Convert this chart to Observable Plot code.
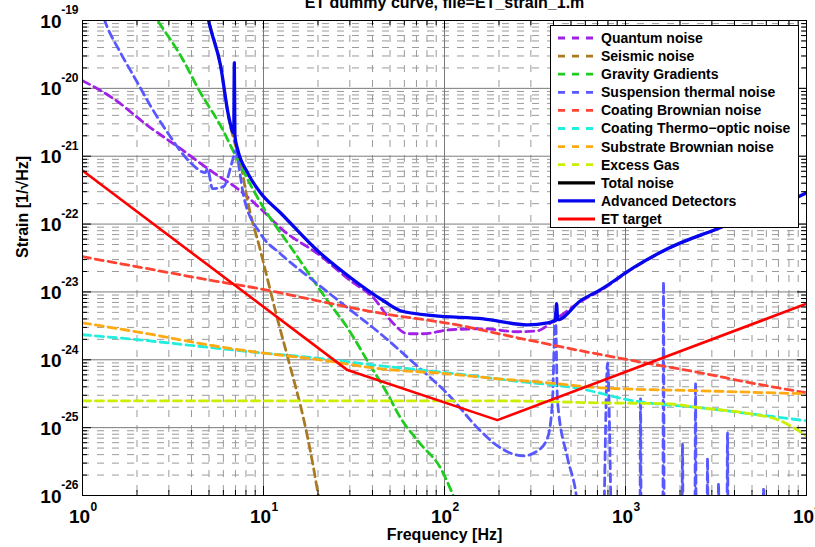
<!DOCTYPE html>
<html>
<head>
<meta charset="utf-8">
<script src="https://cdn.jsdelivr.net/npm/d3@7"></script>
<script src="https://cdn.jsdelivr.net/npm/@observablehq/plot@0.6"></script>
<style>
  html, body { margin: 0; padding: 0; background: #fff; }
  #chart { position: relative; width: 815px; height: 547px; overflow: hidden;
           font-family: "Liberation Sans", Arial, Helvetica, sans-serif; }
  #legend { position: absolute; left: 550px; top: 25px; }
</style>
</head>
<body>
<div id="chart"></div>
<script>
// ---- noise budget, strain amplitude spectral density vs frequency ----
const quantumF = [1, 1.48, 2.29, 3.48, 5.29, 7.18, 9.62, 12.9, 19.9, 30.3, 40.5, 52.3, 62.5, 76.5, 108, 164, 253, 327, 400, 478, 564, 728, 1107, 1706, 3221, 10000];
const quantumH = [1.30e-20, 7.08e-21, 2.83e-21, 1.29e-21, 5.73e-22, 3.33e-22, 1.69e-22, 8.0e-23, 3.66e-23, 1.46e-23, 8.2e-24, 3.4e-24, 2.42e-24, 2.42e-24, 2.77e-24, 2.86e-24, 2.59e-24, 2.68e-24, 3.76e-24, 5.28e-24, 7.2e-24, 1.05e-23, 2.25e-23, 4.3e-23, 8.5e-23, 2.85e-22];

const seismicF = [4.6, 5.0, 5.8, 6.4, 6.83, 7.46, 8.16, 9.62, 11.9, 14.1, 16.6, 18.9, 20.1, 21];
const seismicH = [3e-19, 1.0e-19, 2.1e-20, 3.8e-21, 1.82e-21, 8.05e-22, 2.21e-22, 4.05e-23, 4.16e-24, 7.62e-25, 1.40e-25, 2.55e-26, 9.9e-27, 5e-27];

const gravityF = [2.2, 2.60, 3.48, 4.48, 5.79, 7.46, 9.62, 14.6, 22.6, 29.1, 37.5, 48.4, 57.1, 73.6, 95, 112, 125];
const gravityH = [2e-19, 1e-19, 3.05e-20, 8.67e-21, 2.82e-21, 7.26e-22, 2.07e-22, 4.05e-23, 7.41e-24, 2.96e-24, 9.66e-25, 3.15e-25, 1.40e-25, 5.77e-26, 2.55e-26, 9.9e-27, 5e-27];

const suspensionF = [1.25, 1.34, 1.62, 2.01, 2.37, 2.95, 3.95, 4.78, 4.90, 5.23, 6.01, 6.74, 7.0, 7.46, 7.76, 9.62, 12.4, 18.9, 29.1, 44.3, 67.4, 104, 158, 196, 273, 327, 371, 395, 410, 421, 478, 530, 560,
  745, 796, 850, 1199, 1211, 1223, 1606, 1622, 1638, 2045, 2065, 2085, 2413, 2437, 2461, 2811, 2839, 2867, 3234, 3266, 3298, 3625, 3661, 3697, 5730, 5787, 5845, 10000];
const suspensionH = [1.6e-19, 9.3e-20, 3.37e-20, 1.22e-20, 5.57e-21, 2.23e-21, 8.05e-22, 5.73e-22, 6.56e-22, 3.33e-22, 3.56e-22, 8.6e-22, 1.21e-21, 5.0e-22, 2.6e-22, 7.2e-23, 3.66e-23, 1.46e-23, 5.85e-24, 2.42e-24, 9.04e-25, 3.15e-25, 8.97e-26, 5.39e-26, 3.84e-26, 4.55e-26, 7.08e-26, 2.48e-25, 5.28e-24, 2.48e-25, 3.59e-26, 1.17e-26, 4e-27,
  1e-27, 9.0e-25, 1e-27, 1e-27, 2.75e-25, 1e-27, 1e-27, 1.41e-23, 1e-27, 1e-27, 5.77e-26, 1e-27, 1e-27, 4.58e-25, 1e-27, 1e-27, 3.59e-26, 1e-27, 1e-27, 1.53e-26, 1e-27, 1e-27, 8.38e-26, 1e-27, 1e-27, 1.25e-26, 1e-27, 1e-27];

const coatBrownF = [1, 2.29, 5.29, 9.62, 19.9, 46, 108, 253, 564, 1374, 2596, 4907, 10000];
const coatBrownH = [3.30e-23, 2.20e-23, 1.46e-23, 1.11e-23, 7.41e-24, 4.77e-24, 3.40e-24, 2.11e-24, 1.36e-24, 8.73e-25, 6.43e-25, 4.58e-25, 3.26e-25];

const thermoOpticF = [1, 2.29, 5.29, 9.62, 18.9, 44.3, 104, 240, 564, 1107, 2596, 6095, 10000];
const thermoOpticH = [2.34e-24, 1.91e-24, 1.50e-24, 1.27e-24, 1.07e-24, 8.16e-25, 6.43e-25, 4.90e-25, 3.73e-25, 2.48e-25, 1.96e-25, 1.49e-25, 1.26e-25];

const substrateF = [1, 2.29, 5.29, 9.62, 18.9, 44.3, 104, 196, 371, 728, 2596, 10000];
const substrateH = [3.51e-24, 2.42e-24, 1.61e-24, 1.27e-24, 1.03e-24, 7.37e-25, 6.22e-25, 5.25e-25, 4.58e-25, 3.86e-25, 3.49e-25, 3.15e-25];

const gasF = [1, 204, 728, 1706, 2596, 4907, 7185, 8690, 10000];
const gasH = [2.48e-25, 2.48e-25, 2.32e-25, 2.25e-25, 1.96e-25, 1.6e-25, 1.26e-25, 9.6e-26, 7.57e-26];

const totalF = [];
const totalH = [];

const advancedF = [4.6, 4.97, 5.79, 6.41, 6.85, 6.9, 6.95, 7.18, 8.16, 9.62, 12.4, 19.9, 30.3, 46, 57.1, 86.9, 164, 287, 371, 410, 416, 422, 564, 728, 1107, 1706, 3221, 9270, 10000];
const advancedH = [3e-19, 1e-19, 2.17e-20, 3.97e-21, 2.2e-21, 2.4e-20, 2.0e-21, 1.29e-21, 5.73e-22, 2.9e-22, 1.47e-22, 4.05e-23, 1.62e-23, 7.41e-24, 5.28e-24, 4.46e-24, 4.02e-24, 3.28e-24, 3.51e-24, 3.8e-24, 6.7e-24, 3.9e-24, 7.41e-24, 1.08e-23, 2.28e-23, 4.33e-23, 8.55e-23, 2.62e-22, 2.9e-22];

const etTargetF = [1, 29.1, 196, 10000];
const etTargetH = [6.14e-22, 7.05e-25, 1.29e-25, 6.7e-24];

// ---- axis ticks ----
const xTicks = [1, 10, 100, 1000, 10000];
const xTickExp = ["0", "1", "2", "3", "4"];
const yTicks = [1e-19, 1e-20, 1e-21, 1e-22, 1e-23, 1e-24, 1e-25, 1e-26];
const yTickExp = ["-19", "-20", "-21", "-22", "-23", "-24", "-25", "-26"];

const titleText = "ET dummy curve, file=ET_strain_1.m";
const xLabel = "Frequency [Hz]";
const yLabel = "Strain [1/\u221AHz]";

// ---- series styling ----
const series = [
  {name: "Quantum noise",               f: quantumF,     h: quantumH,     color: "#a020e8", dash: true},
  {name: "Seismic noise",               f: seismicF,     h: seismicH,     color: "#aa7a22", dash: true},
  {name: "Gravity Gradients",           f: gravityF,     h: gravityH,     color: "#1fcc1f", dash: true},
  {name: "Suspension thermal noise",    f: suspensionF,  h: suspensionH,  color: "#5858ff", dash: true},
  {name: "Coating Brownian noise",      f: coatBrownF,   h: coatBrownH,   color: "#ff4433", dash: true},
  {name: "Coating Thermo\u2212optic noise", f: thermoOpticF, h: thermoOpticH, color: "#22eedd", dash: true},
  {name: "Substrate Brownian noise",    f: substrateF,   h: substrateH,   color: "#ffaa11", dash: true},
  {name: "Excess Gas",                  f: gasF,         h: gasH,         color: "#ccee00", dash: true},
  {name: "Total noise",                 f: totalF,       h: totalH,       color: "#000000", dash: false, width: 3.2},
  {name: "Advanced Detectors",          f: advancedF,    h: advancedH,    color: "#0505ee", dash: false, width: 3.3},
  {name: "ET target",                   f: etTargetF,    h: etTargetH,    color: "#ff0000", dash: false, width: 2.6, curve: "linear"}
];

// ---- layout ----
const W = 815, H = 547;
const mL = 82, mR = 9, mT = 20, mB = 52;
const frameW = W - mL - mR, frameH = H - mT - mB;
const font = "Liberation Sans, Arial, Helvetica, sans-serif";

// log grid positions: decades and the 2..9 multiples between them
const xMinor = [], yMinor = [];
for (let d = 0; d < 4; d++) for (let k = 2; k <= 9; k++) xMinor.push(k * 10 ** d);
for (let d = -26; d < -19; d++) for (let k = 2; k <= 9; k++) yMinor.push(k * 10 ** d);

const lineMarks = series.filter(s => s.f.length).map(s =>
  Plot.line(s.f.map((f, i) => ({f, h: s.h[i]})), {
    x: "f", y: "h",
    stroke: s.color,
    strokeWidth: s.width ?? 2.8,
    strokeDasharray: s.dash ? "8,5" : null,
    curve: s.curve ?? "monotone-x",
    clip: true
  })
);

const chart = Plot.plot({
  width: W, height: H,
  marginLeft: mL, marginRight: mR, marginTop: mT, marginBottom: mB,
  style: {fontFamily: font, background: "#fff", overflow: "visible"},
  x: {type: "log", domain: [1, 1e4], axis: null},
  y: {type: "log", domain: [1e-26, 1e-19], axis: null},
  marks: [
    // grid
    Plot.ruleX(xMinor, {x: d => d, stroke: "#9a9a9a", strokeWidth: 1, strokeDasharray: "7,8"}),
    Plot.ruleY(yMinor, {y: d => d, stroke: "#9a9a9a", strokeWidth: 1, strokeDasharray: "7,8"}),
    Plot.ruleX(xTicks, {x: d => d, stroke: "#7a7a7a", strokeWidth: 1}),
    Plot.ruleY(yTicks, {y: d => d, stroke: "#7a7a7a", strokeWidth: 1}),
    // curves
    ...lineMarks,
    // inward ticks on all four sides
    Plot.tickX(xMinor, {x: d => d, insetTop: frameH - 5, stroke: "#000"}),
    Plot.tickX(xMinor, {x: d => d, insetBottom: frameH - 5, stroke: "#000"}),
    Plot.tickX(xTicks, {x: d => d, insetTop: frameH - 9, stroke: "#000"}),
    Plot.tickX(xTicks, {x: d => d, insetBottom: frameH - 9, stroke: "#000"}),
    Plot.tickY(yMinor, {y: d => d, insetRight: frameW - 5, stroke: "#000"}),
    Plot.tickY(yMinor, {y: d => d, insetLeft: frameW - 5, stroke: "#000"}),
    Plot.tickY(yTicks, {y: d => d, insetRight: frameW - 9, stroke: "#000"}),
    Plot.tickY(yTicks, {y: d => d, insetLeft: frameW - 9, stroke: "#000"}),
    Plot.frame({stroke: "#000", strokeWidth: 1}),
    // tick labels: 10 with a raised exponent
    Plot.text(yTicks, {y: d => d, text: () => "10", frameAnchor: "left", dx: -21, dy: 1, textAnchor: "end",
      fontSize: 19, fontWeight: "bold", fontFamily: font, fill: "#000"}),
    Plot.text(yTicks, {y: d => d, text: (d, i) => yTickExp[i], frameAnchor: "left", dx: -4, dy: -10, textAnchor: "end",
      fontSize: 12, fontWeight: "bold", fontFamily: font, fill: "#000"}),
    Plot.text(xTicks, {x: d => d, text: () => "10", frameAnchor: "bottom", dx: -3, dy: 27,
      fontSize: 19, fontWeight: "bold", fontFamily: font, fill: "#000"}),
    Plot.text(xTicks, {x: d => d, text: (d, i) => xTickExp[i], frameAnchor: "bottom", dx: 8, dy: 15, textAnchor: "start",
      fontSize: 12, fontWeight: "bold", fontFamily: font, fill: "#000"}),
    // axis titles and chart title
    Plot.text([xLabel], {frameAnchor: "bottom", dy: 44, fontSize: 16, fontWeight: "bold", fontFamily: font, fill: "#000"}),
    Plot.text([yLabel], {frameAnchor: "left", dx: -60, rotate: -90, fontSize: 16, fontWeight: "bold", fontFamily: font, fill: "#000"}),
    Plot.text([titleText], {frameAnchor: "top", dy: -24, fontSize: 16, fontWeight: "bold", fontFamily: font, fill: "#000"})
  ]
});

const root = document.getElementById("chart");
root.appendChild(chart);

// ---- legend box in the upper right of the axes ----
const lw = 249, lh = 203, rowH = 18.1;
const legend = d3.select(root).append("svg")
  .attr("id", "legend")
  .attr("width", lw).attr("height", lh);
legend.append("rect")
  .attr("x", 0.5).attr("y", 0.5).attr("width", lw - 1).attr("height", lh - 1)
  .attr("fill", "#fff").attr("stroke", "#000").attr("stroke-width", 1);
const rows = legend.selectAll("g.row").data(series).join("g")
  .attr("class", "row")
  .attr("transform", (d, i) => `translate(0,${13 + i * rowH})`);
rows.append("line")
  .attr("x1", 8).attr("x2", 45).attr("y1", 0).attr("y2", 0)
  .attr("stroke", d => d.color)
  .attr("stroke-width", d => d.dash ? 2.8 : 3.2)
  .attr("stroke-dasharray", d => d.dash ? "7,7" : null);
rows.append("text")
  .attr("x", 51).attr("y", 0).attr("dy", "0.35em")
  .attr("font-family", font).attr("font-size", 14).attr("font-weight", "bold").attr("fill", "#000")
  .text(d => d.name);
</script>
</body>
</html>
